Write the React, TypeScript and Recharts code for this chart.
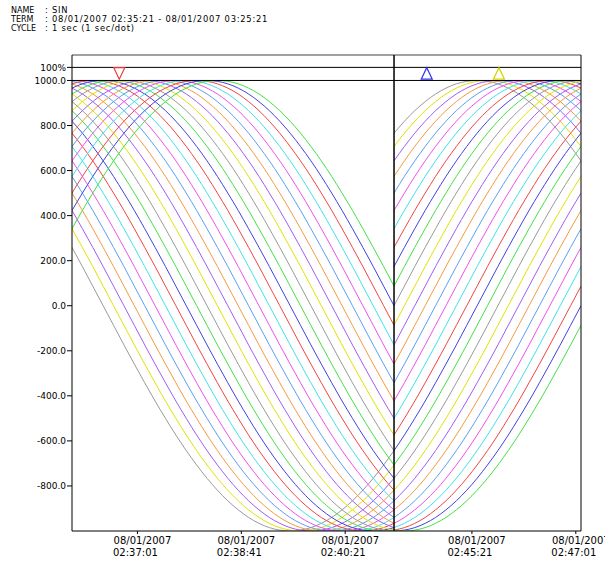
import React from 'react';
import { ComposedChart, Line, XAxis, YAxis, ReferenceLine, ReferenceDot } from 'recharts';

// One full cycle of the recorded waveform, read every 10 s (5 deg steps)
const WAVE = [
  0, 87, 174, 259, 342, 423, 500, 574, 643, 707, 766, 819, 866, 906, 940, 966, 985, 996,
  1000, 996, 985, 966, 940, 906, 866, 819, 766, 707, 643, 574, 500, 423, 342, 259, 174, 87,
  0, -87, -174, -259, -342, -423, -500, -574, -643, -707, -766, -819, -866, -906, -940, -966, -985, -996,
  -1000, -996, -985, -966, -940, -906, -866, -819, -766, -707, -643, -574, -500, -423, -342, -259, -174, -87,
];

// channel lag (in 10 s samples) relative to the leading channel
const CHANNEL_LAG = [
  0, 1, 2, 3, 4, 5, 6, 7, 8, 9,
  10, 11, 12, 13, 14, 15, 16, 17, 18, 19,
  20, 21, 22, 23, 24, 25, 26, 27, 28, 29,
];
const PALETTE = ['#9a9a9a', '#e2e200', '#a35cf5', '#f7993f', '#5c9ef5', '#f050f0', '#3ee2ea', '#f24444', '#4242e0', '#44e044'];

// displayed time axis (seconds from 02:35:58, gap 02:41:08-02:44:06 removed)
const LEFT_TIMES = [0, 10, 20, 30, 40, 50, 60, 70, 80, 90, 100, 110, 120, 130, 140, 150, 160, 170, 180, 190, 200, 210, 220, 230, 240, 250, 260, 270, 280, 290, 300, 310];
const RIGHT_TIMES = [310, 320, 330, 340, 350, 360, 370, 380, 390, 400, 410, 420, 430, 440, 450, 460, 470, 480, 490];
const LEFT_PHASE_START = 33;
const RIGHT_PHASE_START = 82;
const BREAK_AT = 310;
const X_END = 490;

const X_TICKS = [63, 163, 263, 385, 485];
const X_TICK_DATES = ['08/01/2007', '08/01/2007', '08/01/2007', '08/01/2007', '08/01/2007'];
const X_TICK_TIMES = ['02:37:01', '02:38:41', '02:40:21', '02:45:21', '02:47:01'];

const Y_TICKS = [-800, -600, -400, -200, 0, 200, 400, 600, 800, 1000, 1058];
const Y_MIN = -1000;
const Y_MAX = 1113;
const PCT_LINE = 1058;

const MARKERS = [
  { x: 45.5, dir: 'down', color: '#ee3333' },
  { x: 341.5, dir: 'up', color: '#3333ee' },
  { x: 411, dir: 'up', color: '#d4d400' },
];

const HEADER = [
  { label: 'NAME', value: 'SIN' },
  { label: 'TERM', value: '08/01/2007 02:35:21 - 08/01/2007 03:25:21' },
  { label: 'CYCLE', value: '1 sec (1 sec/dot)' },
];

const rows: any[] = [];
LEFT_TIMES.forEach((c, j) => {
  const r: any = { c };
  CHANNEL_LAG.forEach((lag, k) => {
    r['s' + k] = WAVE[(((LEFT_PHASE_START - lag + j) % 72) + 72) % 72];
  });
  rows.push(r);
});
{
  const gap: any = { c: BREAK_AT };
  CHANNEL_LAG.forEach((_, k) => { gap['s' + k] = null; });
  rows.push(gap);
}
RIGHT_TIMES.forEach((c, j) => {
  const r: any = { c };
  CHANNEL_LAG.forEach((lag, k) => {
    r['s' + k] = WAVE[(((RIGHT_PHASE_START - lag + j) % 72) + 72) % 72];
  });
  rows.push(r);
});

const FONT = 'DejaVu Sans';

const XTick = (props: any) => {
  const { x, y, payload } = props;
  const i = X_TICKS.indexOf(payload.value);
  return (
    <g>
      <text x={x + 5} y={y + 8} textAnchor="middle" fontSize={10} fill="#000" fontFamily={FONT}>{X_TICK_DATES[i]}</text>
      <text x={x - 2} y={y + 20} textAnchor="middle" fontSize={10} fill="#000" fontFamily={FONT}>{X_TICK_TIMES[i]}</text>
    </g>
  );
};

const yFmt = (v: number) => (v === PCT_LINE ? '100%' : v.toFixed(1));

const Tri = (color: string, dir: string) => (props: any) => {
  const { cx, cy } = props;
  const pts = dir === 'down'
    ? `${cx - 5.5},${cy - 6} ${cx + 5.5},${cy - 6} ${cx},${cy + 5.5}`
    : `${cx - 5.5},${cy + 5.5} ${cx + 5.5},${cy + 5.5} ${cx},${cy - 6}`;
  return <polygon points={pts} fill="none" stroke={color} strokeWidth={1.2} />;
};

export default function App() {
  return (
    <div style={{ position: 'absolute', left: 0, top: 0, width: 605, height: 563, background: '#fff' }}>
      <svg width={605} height={40} style={{ position: 'absolute', left: 0, top: 0 }}>
        {HEADER.map((h, i) => (
          <g key={h.label} fontFamily={FONT} fill="#000">
            <text x={11} y={13 + i * 9.2} fontSize={8}>{h.label}</text>
            <text x={45} y={13 + i * 9.2} fontSize={8.4} letterSpacing={0.75}>{': ' + h.value}</text>
          </g>
        ))}
      </svg>
      <div style={{ position: 'absolute', left: 0, top: 0 }}>
        <ComposedChart
          width={605}
          height={563}
          data={rows}
          margin={{ top: 55, right: 24, bottom: 0, left: 0 }}
          style={{ fontFamily: FONT }}
        >
          <XAxis
            dataKey="c"
            type="number"
            domain={[0, X_END]}
            ticks={X_TICKS}
            allowDataOverflow
            height={32}
            tickSize={3}
            tickMargin={2}
            tick={<XTick />}
            axisLine={{ stroke: '#000' }}
            tickLine={{ stroke: '#000' }}
            interval={0}
          />
          <YAxis
            type="number"
            domain={[Y_MIN, Y_MAX]}
            ticks={Y_TICKS}
            allowDataOverflow
            width={72}
            tickSize={5}
            tickMargin={1}
            tickFormatter={yFmt}
            tick={{ fontSize: 9, fill: '#000', fontFamily: FONT }}
            axisLine={{ stroke: '#000' }}
            tickLine={{ stroke: '#000' }}
            interval={0}
          />
          {CHANNEL_LAG.map((_, k) => (
            <Line
              key={k}
              dataKey={'s' + k}
              type="monotone"
              stroke={PALETTE[k % PALETTE.length]}
              strokeWidth={1}
              dot={false}
              activeDot={false}
              connectNulls={false}
              isAnimationActive={false}
            />
          ))}
          <ReferenceLine y={Y_MAX} stroke="#444" strokeWidth={1} />
          <ReferenceLine y={PCT_LINE} stroke="#000" strokeWidth={1} />
          <ReferenceLine y={1000} stroke="#000" strokeWidth={1} />
          <ReferenceLine x={X_END} stroke="#000" strokeWidth={1} />
          <ReferenceLine x={BREAK_AT} stroke="#000" strokeWidth={1.5} />
          {MARKERS.map((m) => (
            <ReferenceDot key={m.x} x={m.x} y={1030} r={6} shape={Tri(m.color, m.dir)} />
          ))}
        </ComposedChart>
      </div>
    </div>
  );
}
